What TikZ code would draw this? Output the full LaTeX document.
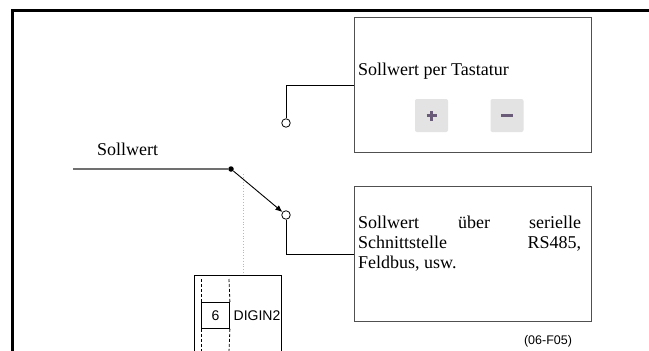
\documentclass[tikz,border=0pt]{standalone}
\usepackage{fontspec}
\setmainfont{Liberation Serif}
\newfontfamily\arialfont{Liberation Sans}
\usetikzlibrary{arrows.meta}
\definecolor{boxgray}{HTML}{505050}
\definecolor{btnfill}{HTML}{E3E3E3}
\definecolor{btnsym}{HTML}{6A5C78}
\definecolor{linegray}{HTML}{707070}
\definecolor{dotgray}{HTML}{B8B8B8}
\tikzset{
  panel/.style={draw=boxgray, line width=1pt, minimum width=237, minimum height=135, anchor=north west, inner sep=0},
  btn/.style={fill=btnfill, rounded corners=2pt, minimum size=33, inner sep=0},
  sym/.style={draw=btnsym, line width=3pt},
  term/.style={circle, draw, fill=white, line width=0.8pt, minimum size=8.5, inner sep=0},
  jdot/.style={circle, fill=black, minimum size=5.5, inner sep=0},
  serif/.style={font=\fontsize{18}{20}\selectfont, inner sep=0},
  sans/.style={font=\arialfont\fontsize{14}{16}\selectfont, inner sep=0},
  wire/.style={line width=0.9pt},
  dashv/.style={dash pattern=on 3pt off 2pt, line width=0.8pt},
}
\begin{document}
\begin{tikzpicture}[x=1pt,y=-1pt]
\useasboundingbox (0,0) rectangle (649,351);
\fill[white] (0,0) rectangle (649,351);
% outer frame
\draw[line width=3pt] (12.5,352) -- (12.5,10) -- (650,10);

% boxes
\node[panel] (tast) at (354,17) {};
\node[panel] (ser) at (354,186) {};
\node[serif, anchor=base west] (tasttext) at (358,75) {Sollwert per Tastatur};
\node[btn] (plus) at (431.5,115.5) {};
\node[btn] (minus) at (507,115.5) {};
\draw[sym] ([xshift=-5pt]plus.center) -- ([xshift=5pt]plus.center);
\draw[sym] ([yshift=-5pt]plus.center) -- ([yshift=5pt]plus.center);
\draw[sym] ([xshift=-6pt]minus.center) -- ([xshift=6pt]minus.center);

\node[serif, anchor=north west, text width=223, align=justify] (sertext) at (358,215.5)
  {Sollwert über serielle\linebreak Schnittstelle RS485,\linebreak Feldbus, usw.};

% switch
\coordinate (sin) at (73,169);
\node[serif, anchor=base west] (swlabel) at (97,155) {Sollwert};
\node[jdot] (d) at (231,169) {};
\node[term] (c1) at (286,123) {};
\node[term] (c2) at (286,215) {};
\draw[linegray, line width=1.3pt] (sin) -- (d);
\draw[wire, -{Latex[length=7pt,width=6pt]}] (d) -- (c2);
\draw[wire] (c1.north) |- (tast.west);
\draw[wire] (c2.south) |- (ser.west);

% DIGIN module
\coordinate (mtop) at (243,275);
\coordinate (dtop) at (243,174);
\draw[dotgray, dotted, line width=0.8pt] (dtop) -- (mtop);
\draw[line width=0.9pt] (194,352) -- (194,275) -- (281,275) -- (281,352);
\node[draw, line width=0.9pt, minimum width=28, minimum height=26, anchor=north west, inner sep=0, sans] (six) at (201,302) {6};
\draw[dashv] (201,279) -- (six.north west);
\draw[dashv] (six.south west) -- (201,352);
\draw[dashv] (229,279) -- (six.north east);
\draw[dashv] (six.south east) -- (229,352);
\node[sans, anchor=west] (digin) at (233.5,316) {DIGIN2};

\node[font=\arialfont\fontsize{12.5}{14}\selectfont, inner sep=0] (code) at (548,341) {(06-F05)};
\end{tikzpicture}
\end{document}
